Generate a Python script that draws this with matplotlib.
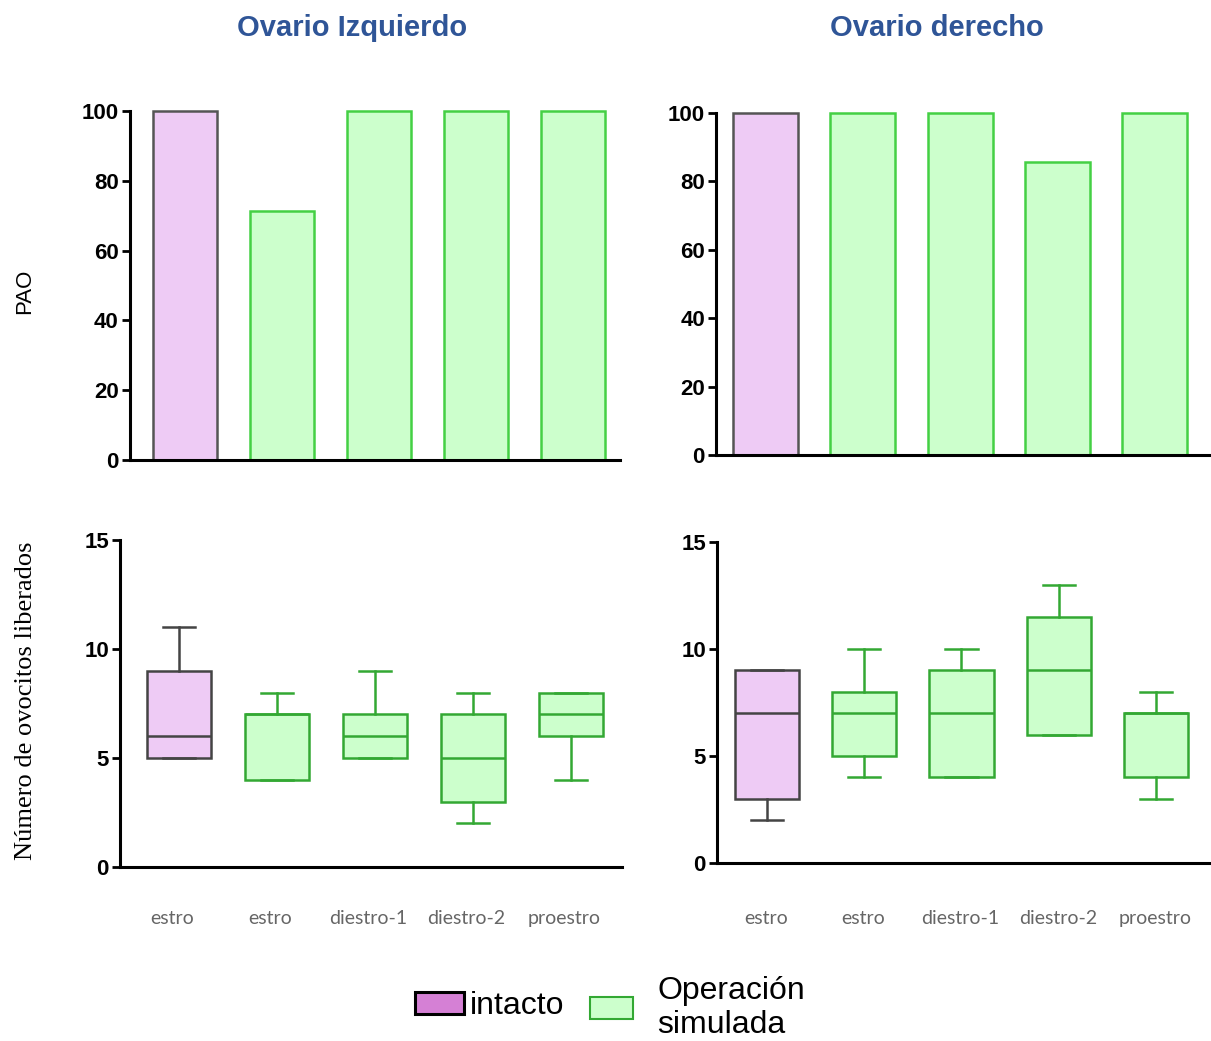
import matplotlib.pyplot as plt
import matplotlib.transforms as mtransforms
from matplotlib.patches import Patch

plt.rcParams["font.family"] = ["Liberation Sans", "DejaVu Sans"]

# data
fases = ["estro", "estro", "diestro-1", "diestro-2", "proestro"]
grupo = ["intacto", "sim", "sim", "sim", "sim"]

pao_izq = [100, 71.4, 100, 100, 100]
pao_der = [100, 100, 100, 85.7, 100]

# min, q1, mediana, q3, max
cajas_izq = [
    [5, 5, 6, 9, 11],
    [4, 4, 7, 7, 8],
    [5, 5, 6, 7, 9],
    [2, 3, 5, 7, 8],
    [4, 6, 7, 8, 8],
]
cajas_der = [
    [2, 3, 7, 9, 9],
    [4, 5, 7, 8, 10],
    [4, 4, 7, 9, 10],
    [6, 6, 9, 11.5, 13],
    [3, 4, 7, 7, 8],
]

ROSA = "#EECBF5"
ROSA_BORDE = "#555555"
VERDE = "#CCFFCC"
VERDE_BORDE = "#44D044"
VERDE_CAJA = "#33A833"
AZUL = "#2F5597"


def estilo_ejes(ax):
    for s in ["top", "right"]:
        ax.spines[s].set_visible(False)
    for s in ["left", "bottom"]:
        ax.spines[s].set_linewidth(2.2)
    ax.tick_params(axis="y", length=6, width=2, pad=2)
    ax.tick_params(axis="x", length=0)
    for lab in ax.get_yticklabels():
        lab.set_fontweight("bold")
        lab.set_fontsize(16)


def barras(ax, valores, xlim, ancho):
    x = list(range(len(valores)))
    for i, v in enumerate(valores):
        if grupo[i] == "intacto":
            fc, ec = ROSA, ROSA_BORDE
        else:
            fc, ec = VERDE, VERDE_BORDE
        ax.bar(x[i], v, width=ancho, color=fc, edgecolor=ec, linewidth=1.8,
               clip_on=False, zorder=2)
    ax.set_ylim(0, 100)
    ax.set_yticks([0, 20, 40, 60, 80, 100])
    ax.set_xlim(*xlim)
    ax.set_xticks([])
    estilo_ejes(ax)


def cajas(ax, datos, xlim, ancho, pad, dx):
    stats = []
    for d in datos:
        stats.append(dict(whislo=d[0], q1=d[1], med=d[2], q3=d[3], whishi=d[4], fliers=[]))
    for i, st in enumerate(stats):
        if grupo[i] == "intacto":
            fc, ec = ROSA, "#444444"
        else:
            fc, ec = VERDE, VERDE_CAJA
        ax.bxp([st], positions=[i], widths=ancho, patch_artist=True, showfliers=False,
               boxprops=dict(facecolor=fc, edgecolor=ec, linewidth=1.8),
               medianprops=dict(color=ec, linewidth=1.8),
               whiskerprops=dict(color=ec, linewidth=1.8),
               capprops=dict(color=ec, linewidth=1.8))
    ax.set_ylim(0, 15)
    ax.set_yticks([0, 5, 10, 15])
    ax.set_xlim(*xlim)
    ax.set_xticks(range(len(fases)))
    ax.set_xticklabels(fases, fontfamily="Lato", fontsize=14, color="#666666")
    estilo_ejes(ax)
    ax.tick_params(axis="x", length=0, pad=pad)
    desplaza = mtransforms.ScaledTranslation(dx / 100, 0, ax.figure.dpi_scale_trans)
    for lab in ax.get_xticklabels():
        lab.set_transform(lab.get_transform() + desplaza)


fig = plt.figure(figsize=(12.11, 10.41), dpi=100)

ax1 = fig.add_axes([0.1073, 0.5581, 0.4046, 0.3353])
ax2 = fig.add_axes([0.5913, 0.5629, 0.4088, 0.3285])
ax3 = fig.add_axes([0.0991, 0.1671, 0.4145, 0.3141])
ax4 = fig.add_axes([0.5921, 0.1710, 0.4079, 0.3084])

barras(ax1, pao_izq, (-0.567, 4.485), 0.66)
barras(ax2, pao_der, (-0.509, 4.58), 0.67)
cajas(ax3, cajas_izq, (-0.602, 4.52), 0.65, 31, -7)
cajas(ax4, cajas_der, (-0.514, 4.566), 0.66, 34, -1)

fig.text(352 / 1211, 1 - 28 / 1041, "Ovario Izquierdo", ha="center", va="center",
         color=AZUL, fontsize=21, fontweight="bold")
fig.text(937 / 1211, 1 - 28 / 1041, "Ovario derecho", ha="center", va="center",
         color=AZUL, fontsize=21, fontweight="bold")

fig.text(25 / 1211, 1 - 291 / 1041, "PAO", rotation=90, ha="center", va="center",
         fontsize=16, fontfamily="Liberation Sans")
fig.text(26 / 1211, 1 - 701 / 1041, "Número de ovocitos liberados", rotation=90,
         ha="center", va="center", fontsize=19, fontfamily="Liberation Serif")

h_int = Patch(facecolor="#D580D5", edgecolor="black", linewidth=2.2)
h_sim = Patch(facecolor=VERDE, edgecolor=VERDE_CAJA, linewidth=1.5)

leg1 = fig.legend([h_int], ["intacto"], loc="center left",
                  bbox_to_anchor=(415 / 1211, 1 - 1006 / 1041), frameon=False,
                  prop=dict(size=23), handlelength=1.54, handleheight=0.69,
                  handletextpad=0.19, borderpad=0, borderaxespad=0)
leg2 = fig.legend([h_sim], ["Operación\nsimulada"], loc="center left",
                  bbox_to_anchor=(590 / 1211, 1 - 1008 / 1041), frameon=False,
                  prop=dict(size=23), handlelength=1.35, handleheight=0.69,
                  handletextpad=0.75, borderpad=0, borderaxespad=0)
for t in leg2.get_texts():
    t.set_linespacing(1.15)

fig.savefig("out.png", dpi=100)
